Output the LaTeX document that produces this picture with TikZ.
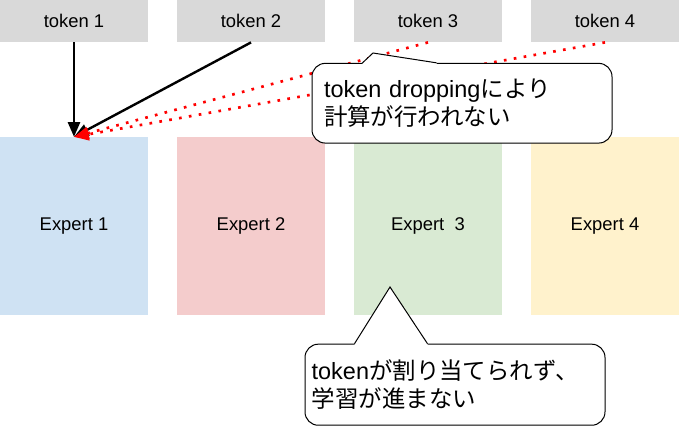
\documentclass[tikz,border=0pt]{standalone}
\usepackage{fontspec}
\setmainfont{Liberation Sans}
\newfontfamily\jp{Noto Sans CJK JP}
\usetikzlibrary{arrows.meta}
\definecolor{tokgray}{HTML}{D9D9D9}
\definecolor{expblue}{HTML}{CFE2F3}
\definecolor{expred}{HTML}{F4CCCC}
\definecolor{expgreen}{HTML}{D9EAD3}
\definecolor{expyellow}{HTML}{FFF2CC}
\begin{document}
\begin{tikzpicture}[x=0.75pt,y=-0.75pt,
  token/.style={fill=tokgray,minimum width=111pt,minimum height=31.7pt,inner sep=0pt,font=\fontsize{13.8}{16}\selectfont},
  expert/.style={minimum width=111pt,minimum height=133.3pt,inner sep=0pt,font=\fontsize{13.8}{16}\selectfont},
  route/.style={-{Triangle[length=11pt,width=9pt]},line width=1.8pt},
  dropped/.style={route,red,line width=2pt,dash pattern=on 2pt off 5.5pt},
  note/.style={draw,fill=white,rounded corners=10pt,line width=0.75pt,inner ysep=0pt,align=left,font=\fontsize{17.6}{21}\selectfont}]
\useasboundingbox (0,0) rectangle (679,426);
% tokens
\node[token] (tok1) at (74,21) {token 1};
\node[token] (tok2) at (251,21) {token 2};
\node[token] (tok3) at (428,21) {token 3};
\node[token] (tok4) at (605,21) {token 4};
% experts
\node[expert,fill=expblue] (exp1) at (74,226) {Expert 1};
\node[expert,fill=expred] (exp2) at (251,226) {Expert 2};
\node[expert,fill=expgreen] (exp3) at (428,226) {Expert~~3};
\node[expert,fill=expyellow] (exp4) at (605,226) {Expert 4};
% routing
\draw[route] (tok1.south) -- (exp1.north);
\draw[route] (tok2.south) -- (exp1.north);
\draw[dropped] (tok3.south) -- (exp1.north);
\draw[dropped] (tok4.south) -- (exp1.north);
% callouts
\node[note,inner xsep=9pt,text width=207pt,minimum height=59.8pt] (dropnote) at (462,103.2)
  {token dropping{\jp により}\\{\jp 計算が行われない}};
\coordinate (dropnotetip) at (373,53);
\fill[white] ([xshift=38.25pt]dropnote.north west) -- (dropnotetip) -- ([xshift=93.75pt]dropnote.north west)
  -- ([xshift=93.75pt,yshift=-1pt]dropnote.north west) -- ([xshift=38.25pt,yshift=-1pt]dropnote.north west) -- cycle;
\draw[line width=0.75pt] ([xshift=38.25pt]dropnote.north west) -- (dropnotetip) -- ([xshift=93.75pt]dropnote.north west);
\node[note,inner xsep=5pt,text width=215pt,minimum height=60.8pt] (assignnote) at (455,384.7)
  {token{\jp が割り当てられず、}\\{\jp 学習が進まない}};
\coordinate (assignnotetip) at (390,287);
\fill[white] ([xshift=37.5pt]assignnote.north west) -- (assignnotetip) -- ([xshift=92.25pt]assignnote.north west)
  -- ([xshift=92.25pt,yshift=-1pt]assignnote.north west) -- ([xshift=37.5pt,yshift=-1pt]assignnote.north west) -- cycle;
\draw[line width=0.75pt] ([xshift=37.5pt]assignnote.north west) -- (assignnotetip) -- ([xshift=92.25pt]assignnote.north west);
\end{tikzpicture}
\end{document}
